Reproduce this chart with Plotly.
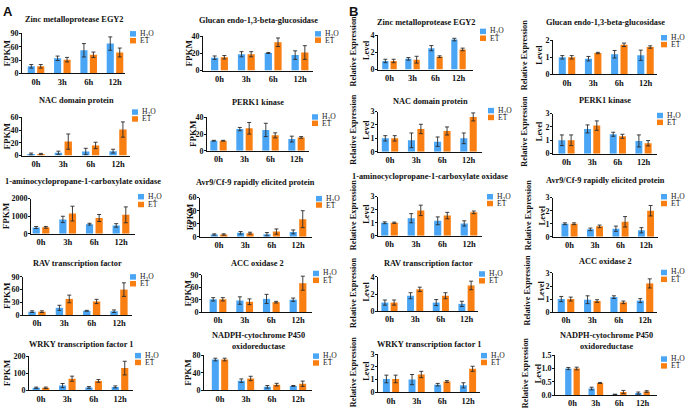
import plotly.graph_objects as go

W, H = 685, 411
times = ["0h", "3h", "6h", "12h"]
series_names = ["H<sub>2</sub>O", "ET"]
colors = ["#4AA6F5", "#FA7F12"]

# ---------------- Panel A (FPKM) ----------------
egy2_fpkm_h2o = [16, 34, 52, 67]
egy2_fpkm_h2o_err = [4, 5, 15, 15]
egy2_fpkm_et = [16, 31, 42, 47]
egy2_fpkm_et_err = [4, 5, 6, 10]

glu_fpkm_h2o = [15, 19, 20.5, 18]
glu_fpkm_h2o_err = [2, 3, 0.6, 5]
glu_fpkm_et = [15.5, 19, 33, 21]
glu_fpkm_et_err = [2, 3, 5, 8]

nac_fpkm_h2o = [2.5, 4.5, 6.5, 7]
nac_fpkm_h2o_err = [1.5, 2.5, 5, 3]
nac_fpkm_et = [2.5, 22, 16, 41]
nac_fpkm_et_err = [1, 12, 5, 12]

perk_fpkm_h2o = [12, 26, 25, 14]
perk_fpkm_h2o_err = [0.5, 2, 8, 3.5]
perk_fpkm_et = [12, 27, 18.5, 16]
perk_fpkm_et_err = [0.5, 7, 3, 1]

aco_fpkm_h2o = [360, 820, 550, 480]
aco_fpkm_h2o_err = [60, 180, 50, 100]
aco_fpkm_et = [370, 1150, 900, 1080]
aco_fpkm_et_err = [50, 420, 200, 450]

avr_fpkm_h2o = [3.5, 6, 4, 7.5]
avr_fpkm_h2o_err = [1, 2, 2.5, 3]
avr_fpkm_et = [3.5, 5.5, 8, 27]
avr_fpkm_et_err = [1, 1.5, 4, 13]

rav_fpkm_h2o = [8, 17, 10, 9]
rav_fpkm_h2o_err = [2, 6, 1, 3]
rav_fpkm_et = [8, 38, 32, 60]
rav_fpkm_et_err = [2, 9, 5, 16]

acc2_fpkm_h2o = [31, 28, 32, 30]
acc2_fpkm_h2o_err = [4, 9, 11, 4]
acc2_fpkm_et = [31, 25, 24, 70]
acc2_fpkm_et_err = [4, 7, 2, 17]

wrky_fpkm_h2o = [15, 28, 17, 20]
wrky_fpkm_h2o_err = [4, 12, 5, 6]
wrky_fpkm_et = [15, 68, 55, 130]
wrky_fpkm_et_err = [4, 15, 8, 40]

nadph_fpkm_h2o = [70, 22, 8, 10]
nadph_fpkm_h2o_err = [3, 4, 3, 1]
nadph_fpkm_et = [70, 27, 13, 15]
nadph_fpkm_et_err = [3, 5, 3, 6]

# ---------------- Panel B (relative expression) ----------------
egy2_rel_h2o = [1.0, 1.25, 2.5, 3.5]
egy2_rel_h2o_err = [0.2, 0.15, 0.3, 0.15]
egy2_rel_et = [1.0, 1.15, 1.5, 2.35]
egy2_rel_et_err = [0.2, 0.4, 0.1, 0.15]

glu_rel_h2o = [1.0, 0.92, 1.18, 1.12]
glu_rel_h2o_err = [0.1, 0.13, 0.22, 0.3]
glu_rel_et = [1.0, 1.25, 1.73, 1.6]
glu_rel_et_err = [0.1, 0.04, 0.1, 0.07]

nac_rel_h2o = [1.0, 0.85, 0.75, 1.0]
nac_rel_h2o_err = [0.2, 0.55, 0.35, 0.4]
nac_rel_et = [1.0, 1.7, 1.55, 2.6]
nac_rel_et_err = [0.2, 0.35, 0.3, 0.3]

perk_rel_h2o = [1.0, 1.85, 1.45, 0.95]
perk_rel_h2o_err = [0.4, 0.3, 0.15, 0.45]
perk_rel_et = [1.0, 2.1, 1.3, 0.78]
perk_rel_et_err = [0.4, 0.35, 0.15, 0.2]

aco_rel_h2o = [1.0, 1.35, 1.15, 0.95]
aco_rel_h2o_err = [0.07, 0.35, 0.3, 0.2]
aco_rel_et = [1.0, 1.95, 1.55, 1.8]
aco_rel_et_err = [0.05, 0.4, 0.25, 0.1]

avr_rel_h2o = [1.0, 0.57, 0.62, 0.5]
avr_rel_h2o_err = [0.07, 0.1, 0.2, 0.2]
avr_rel_et = [1.0, 0.8, 1.15, 2.0]
avr_rel_et_err = [0.07, 0.1, 0.4, 0.4]

rav_rel_h2o = [1.0, 1.8, 1.0, 0.85]
rav_rel_h2o_err = [0.3, 0.35, 0.35, 0.3]
rav_rel_et = [1.0, 2.55, 1.8, 3.0]
rav_rel_et_err = [0.3, 0.25, 0.35, 0.5]

acc2_rel_h2o = [1.0, 0.95, 1.15, 0.88]
acc2_rel_h2o_err = [0.2, 0.3, 0.1, 0.15]
acc2_rel_et = [1.0, 0.85, 0.75, 2.2]
acc2_rel_et_err = [0.15, 0.1, 0.1, 0.35]

wrky_rel_h2o = [1.05, 1.0, 0.6, 0.55]
wrky_rel_h2o_err = [0.3, 0.4, 0.1, 0.2]
wrky_rel_et = [1.05, 1.4, 0.85, 1.85]
wrky_rel_et_err = [0.3, 0.25, 0.07, 0.2]

nadph_rel_h2o = [1.0, 0.25, 0.03, 0.08]
nadph_rel_h2o_err = [0.04, 0.05, 0.01, 0.04]
nadph_rel_et = [1.0, 0.46, 0.12, 0.14]
nadph_rel_et_err = [0.05, 0.02, 0.06, 0.03]

# subplot titles and y tick values
titles = [
    "Zinc metalloprotease EGY2", "Glucan endo-1,3-beta-glucosidase",
    "NAC domain protein", "PERK1 kinase",
    "1-aminocyclopropane-1-carboxylate oxidase", "Avr9/Cf-9 rapidly elicited protein",
    "RAV transcription factor", "ACC oxidase 2",
    "WRKY transcription factor 1", "NADPH-cytochrome P450<br>oxidoreductase",
]
fpkm_ticks = [[0, 30, 60, 90], [0, 20, 40], [0, 20, 40, 60], [0, 20, 40],
              [0, 1000, 2000], [0, 20, 40, 60], [0, 30, 60, 90], [0, 30, 60, 90],
              [0, 100, 200], [0, 40, 80]]
rel_ticks = [[0, 2, 4], [0, 1, 2], [0, 1, 2, 3], [0, 1, 2, 3], [0, 1, 2, 3],
             [0, 1, 2, 3], [0, 2, 4], [0, 1, 2, 3], [0, 1, 2, 3], [0.0, 0.5, 1.0, 1.5]]

fpkm_data = [
    (egy2_fpkm_h2o, egy2_fpkm_h2o_err, egy2_fpkm_et, egy2_fpkm_et_err),
    (glu_fpkm_h2o, glu_fpkm_h2o_err, glu_fpkm_et, glu_fpkm_et_err),
    (nac_fpkm_h2o, nac_fpkm_h2o_err, nac_fpkm_et, nac_fpkm_et_err),
    (perk_fpkm_h2o, perk_fpkm_h2o_err, perk_fpkm_et, perk_fpkm_et_err),
    (aco_fpkm_h2o, aco_fpkm_h2o_err, aco_fpkm_et, aco_fpkm_et_err),
    (avr_fpkm_h2o, avr_fpkm_h2o_err, avr_fpkm_et, avr_fpkm_et_err),
    (rav_fpkm_h2o, rav_fpkm_h2o_err, rav_fpkm_et, rav_fpkm_et_err),
    (acc2_fpkm_h2o, acc2_fpkm_h2o_err, acc2_fpkm_et, acc2_fpkm_et_err),
    (wrky_fpkm_h2o, wrky_fpkm_h2o_err, wrky_fpkm_et, wrky_fpkm_et_err),
    (nadph_fpkm_h2o, nadph_fpkm_h2o_err, nadph_fpkm_et, nadph_fpkm_et_err),
]
rel_data = [
    (egy2_rel_h2o, egy2_rel_h2o_err, egy2_rel_et, egy2_rel_et_err),
    (glu_rel_h2o, glu_rel_h2o_err, glu_rel_et, glu_rel_et_err),
    (nac_rel_h2o, nac_rel_h2o_err, nac_rel_et, nac_rel_et_err),
    (perk_rel_h2o, perk_rel_h2o_err, perk_rel_et, perk_rel_et_err),
    (aco_rel_h2o, aco_rel_h2o_err, aco_rel_et, aco_rel_et_err),
    (avr_rel_h2o, avr_rel_h2o_err, avr_rel_et, avr_rel_et_err),
    (rav_rel_h2o, rav_rel_h2o_err, rav_rel_et, rav_rel_et_err),
    (acc2_rel_h2o, acc2_rel_h2o_err, acc2_rel_et, acc2_rel_et_err),
    (wrky_rel_h2o, wrky_rel_h2o_err, wrky_rel_et, wrky_rel_et_err),
    (nadph_rel_h2o, nadph_rel_h2o_err, nadph_rel_et, nadph_rel_et_err),
]

# ---------------- layout (pixel boxes) ----------------
# x0, x1, centre of first category, centre of last category, y top, y bottom
boxes = [
    (22, 125, 36, 115, 30, 71), (203, 313, 219.5, 300, 33, 68),
    (22, 130, 36, 118, 116, 155), (207, 309, 218.5, 296.5, 116, 150),
    (31, 135, 41, 121, 199, 235), (200, 312, 219, 298, 198, 238),
    (23, 132, 37, 119, 279, 318), (202, 312, 218, 298, 277, 315),
    (29, 133, 41, 120, 360, 395), (204, 312, 220, 298, 359, 395),
    (378, 473, 389.5, 458.5, 32, 67), (553, 657, 567, 645.5, 37, 72),
    (378, 482, 390, 468.5, 110, 151), (553, 657, 566.5, 643.5, 112, 153),
    (378, 482, 389.5, 469, 197, 237), (553, 658, 569.5, 646, 198, 238),
    (378, 478, 389.5, 466.5, 279, 314), (553, 657, 566, 645, 275, 315),
    (378, 480, 391, 468, 358, 397), (555, 657, 572.5, 642.5, 359, 400),
]
title_y = [16, 17, 99, 101, 181, 182, 265, 265, 348, 345,
           19, 19, 100, 99, 176, 180, 265, 263, 348, 345]
legend_pos = [  # left x of square, centre y of first square, centre y of second
    (130, 30.5, 37.5), (315, 30.5, 37), (132, 110.5, 117.5), (312, 115.5, 122),
    (138, 197, 205), (316, 199, 205.5), (130, 279, 286), (313, 275.5, 282.5),
    (135, 359.5, 366.5), (313, 360, 367),
    (480, 28, 35), (661, 34.5, 41.5), (488, 109, 116), (657, 114, 121),
    (487, 197, 204), (661, 197, 204), (479, 276, 283), (661, 274.5, 281.5),
    (481, 359.5, 366.5), (661, 363, 370),
]
ylab_x = [7, 189, 7, 193, 6, 190, 7, 188, 7, 188]
relab_x = [(353, 366.5), (524, 539.5), (354, 367), (525, 539.5), (353, 366.5),
           (528, 542), (353, 366.5), (528, 542), (353, 366.5), (525, 538)]

SERIF = "Liberation Serif"
fig = go.Figure()
annotations = []
shapes = []


def px(x):
    return x / W


def py(y):
    return 1 - y / H


all_data = fpkm_data + rel_data
all_ticks = fpkm_ticks + rel_ticks
for i in range(20):
    n = i + 1
    xr = "x" if n == 1 else f"x{n}"
    yr = "y" if n == 1 else f"y{n}"
    h2o, h2o_err, et, et_err = all_data[i]
    for vals, errs, name, col in [(h2o, h2o_err, series_names[0], colors[0]),
                                  (et, et_err, series_names[1], colors[1])]:
        fig.add_trace(go.Bar(
            x=times, y=vals, name=name, marker=dict(color=col, line=dict(width=0)),
            error_y=dict(type="data", array=errs, color="#2a2a2a", thickness=0.9, width=2),
            xaxis=xr, yaxis=yr, showlegend=False, offsetgroup=name))
    x0, x1, c0, c3, yt, yb = boxes[i]
    s = (c3 - c0) / 3
    ticks = all_ticks[i]
    xa = "xaxis" if n == 1 else f"xaxis{n}"
    ya = "yaxis" if n == 1 else f"yaxis{n}"
    fig.layout[xa] = dict(
        domain=[px(x0), px(x1)], anchor=yr, type="category",
        range=[(x0 - c0) / s, 3 + (x1 - c3) / s],
        showline=True, linecolor="#111", linewidth=1, ticks="",
        showgrid=False, zeroline=False,
        tickfont=dict(family=SERIF, size=8.5, color="#111", weight="bold"))
    fig.layout[ya] = dict(
        domain=[py(yb), py(yt)], anchor=xr, range=[0, ticks[-1]],
        tickvals=ticks, tickformat=".1f" if n == 20 else None,
        showline=True, linecolor="#111", linewidth=1, ticks="outside",
        ticklen=2, tickwidth=1, tickcolor="#111", showgrid=False, zeroline=False,
        ticklabelstandoff=-1,
        tickfont=dict(family=SERIF, size=8, color="#111", weight="bold"))
    # subplot title
    annotations.append(dict(
        text=titles[i % 10], x=px((x0 + x1) / 2), y=py(title_y[i]),
        xref="paper", yref="paper", showarrow=False, xanchor="center", yanchor="middle",
        font=dict(family=SERIF, size=8.3, color="#111", weight="bold")))
    # y axis labels
    ymid = py((yt + yb) / 2)
    if i < 10:
        annotations.append(dict(
            text="FPKM", x=px(ylab_x[i]), y=ymid, xref="paper", yref="paper",
            showarrow=False, textangle=-90, xanchor="center", yanchor="middle",
            font=dict(family=SERIF, size=9, color="#111", weight="bold")))
    else:
        lx1, lx2 = relab_x[i - 10]
        for txt, lxx in [("Relative Expression", lx1), ("Level", lx2)]:
            annotations.append(dict(
                text=txt, x=px(lxx), y=py((yt + yb) / 2 - 2),
                xref="paper", yref="paper", showarrow=False, textangle=-90,
                xanchor="center", yanchor="middle",
                font=dict(family=SERIF, size=8.3, color="#111", weight="bold")))
    # legend
    lx, ly1, ly2 = legend_pos[i]
    for ly, col, name in [(ly1, colors[0], series_names[0]), (ly2, colors[1], series_names[1])]:
        shapes.append(dict(type="rect", xref="paper", yref="paper",
                           x0=px(lx), x1=px(lx + 6), y0=py(ly + 2.8), y1=py(ly - 2.8),
                           fillcolor=col, line=dict(width=0)))
        annotations.append(dict(
            text=name, x=px(lx + 7.5), y=py(ly), xref="paper", yref="paper",
            showarrow=False, xanchor="left", yanchor="middle",
            font=dict(family=SERIF, size=7.6, color="#222")))

annotations.append(dict(text="A", x=px(1), y=py(8), xref="paper", yref="paper",
                        showarrow=False, xanchor="left", yanchor="middle",
                        font=dict(family="Liberation Sans", size=13, color="#111", weight="bold")))
annotations.append(dict(text="B", x=px(347), y=py(8), xref="paper", yref="paper",
                        showarrow=False, xanchor="left", yanchor="middle",
                        font=dict(family="Liberation Sans", size=13, color="#111", weight="bold")))

fig.update_layout(
    width=W, height=H, margin=dict(l=0, r=0, t=0, b=0),
    paper_bgcolor="white", plot_bgcolor="white",
    barmode="group", bargap=0.28, bargroupgap=0.25,
    annotations=annotations, shapes=shapes, showlegend=False,
)
fig.write_html(
    "out.html",
    config={"staticPlot": True, "displayModeBar": False},
    post_script="document.body.style.margin='0';document.body.style.padding='0';"
                "document.body.style.overflow='hidden';",
)
